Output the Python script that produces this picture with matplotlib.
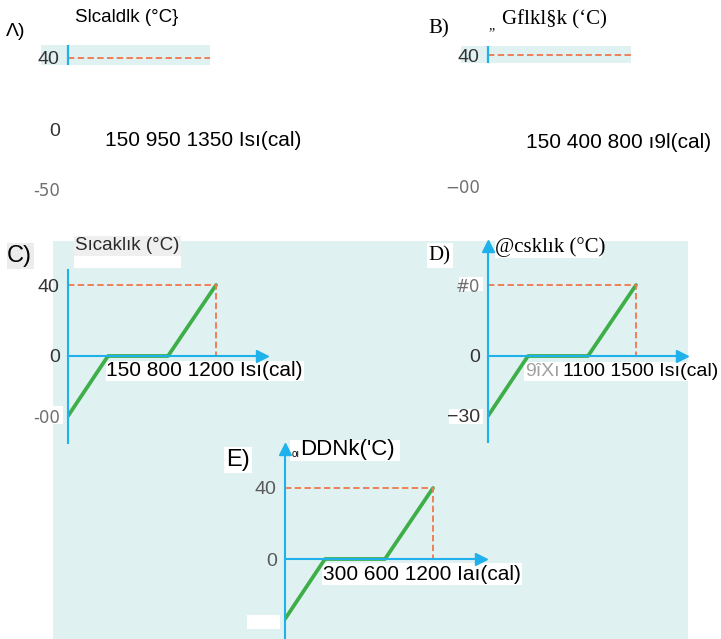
import numpy as np
import matplotlib.pyplot as plt
from matplotlib.patches import Rectangle

# heating curves: heat given (cal) against temperature (°C)
heat_a = [0, 150, 950, 1350]
heat_b = [0, 150, 400, 800]
heat_c = [0, 150, 800, 1200]
heat_d = [0, 300, 1100, 1500]
heat_e = [0, 300, 600, 1200]
temp = [-30, 0, 0, 40]

# printed texts of each option
titles = ["Slcaldlk (°C}", "Gflkl§k (‘C)", "Sıcaklık (°C)", "@csklık (°C)", "DDNk('C)"]
xlabels = ["150 950 1350 Isı(cal)", "150 400 800 ı9l(cal)", "150 800 1200 Isı(cal)",
           "1100 1500 Isı(cal)", "300 600 1200 Iaı(cal)"]
ylabels_a = ["40", "0", "-50"]
ylabels_b = ["40", "−00"]
ylabels_c = ["40", "0", "-00"]
ylabels_d = ["#0", "0", "−30"]
ylabels_e = ["40", "0"]

W, H = 721, 639
BLUE = "#1fb1ec"
ORANGE = "#f07a52"
GREEN = "#3dae48"
CYAN = "#e0f1f1"
SANS = "Liberation Sans"
SERIF = "Liberation Serif"

# the curves are drawn schematically: breakpoints are spread evenly, not to scale
XPOS = [0, 40, 100, 148]
TKEYS = [-30, 0, 40]
YPOS = [-60, 0, 71]


def piecewise(src, dst):
    src = np.asarray(src, float)
    dst = np.asarray(dst, float)

    def f(v):
        v = np.asarray(v, float)
        mid = np.interp(v, src, dst)
        lo = dst[0] + (v - src[0]) * (dst[1] - dst[0]) / (src[1] - src[0])
        hi = dst[-1] + (v - src[-1]) * (dst[-1] - dst[-2]) / (src[-1] - src[-2])
        return np.where(v < src[0], lo, np.where(v > src[-1], hi, mid))
    return f


fig = plt.figure(figsize=(W / 100, H / 100), dpi=100)
back = fig.add_axes([0, 0, 1, 1], zorder=0)
front = fig.add_axes([0, 0, 1, 1], zorder=5)
for a in (back, front):
    a.set_xlim(0, W)
    a.set_ylim(H, 0)
    a.axis("off")
front.patch.set_alpha(0)

back.add_patch(Rectangle((53, 241), 635, 400, color=CYAN, lw=0))

# white and grey boxes behind the printed texts
boxes = [((74, 241, 107, 27), "white"), ((74, 236, 107, 20), "#efefef"),
         ((7, 243, 27, 26), "#ececec"), ((106, 361, 198, 20), "white"),
         ((30, 406, 33, 18), "white"), ((427, 243, 26, 25), "white"),
         ((495, 237, 107, 21), "white"), ((524, 362, 197, 19), "white"),
         ((459, 277, 24, 14), "white"), ((449, 409, 34, 15), "white"),
         ((224, 447, 28, 26), "white"), ((290, 440, 110, 21), "white"),
         ((322, 563, 200, 22), "white")]
for (x, y, w, h), c in boxes:
    back.add_patch(Rectangle((x, y), w, h, color=c, lw=0))


def panel(heat, ox, oy, right, top, bottom, ylabs, yticks, draw_axes=True, yarrow=True):
    ax = fig.add_axes([ox / W, 1 - bottom / H, (right - ox) / W, (bottom - top) / H], zorder=2)
    ax.patch.set_alpha(0)
    ax.set_xscale("function", functions=(piecewise(heat, XPOS), piecewise(XPOS, heat)))
    ax.set_yscale("function", functions=(piecewise(TKEYS, YPOS), piecewise(YPOS, TKEYS)))
    ax.set_xlim(0, float(piecewise(XPOS, heat)(right - ox)))
    ax.set_ylim(float(piecewise(YPOS, TKEYS)(oy - bottom)), float(piecewise(YPOS, TKEYS)(oy - top)))
    ax.set_xticks([])
    ax.set_yticks(yticks, labels=ylabs)
    ax.tick_params(length=0, pad=6)
    for lbl in ax.get_yticklabels():
        lbl.set_fontfamily(SANS)
        lbl.set_fontsize(14)
        lbl.set_color("#333333")
    ax.spines[["top", "right"]].set_visible(False)
    if draw_axes:
        for s in ("left", "bottom"):
            ax.spines[s].set_color(BLUE)
            ax.spines[s].set_linewidth(1.5)
        ax.spines["bottom"].set_position(("data", 0))
        ax.plot([1], [0], ">", ms=9, color=BLUE, transform=ax.get_yaxis_transform(), clip_on=False)
        if yarrow:
            ax.plot([0], [1], "^", ms=9, color=BLUE, transform=ax.get_xaxis_transform(), clip_on=False)
        ax.plot(heat, temp, color=GREEN, lw=2.7, solid_capstyle="round")
    else:
        ax.spines[["left", "bottom"]].set_visible(False)
    guide, = ax.plot([0, heat[-1], heat[-1]], [temp[-1], temp[-1], 0], color=ORANGE,
                     lw=1.35, dashes=(3.4, 1.8))
    return ax, guide


def thin(lbl, color="#707070"):
    lbl.set_fontfamily("DejaVu Sans")
    lbl.set_fontsize(12)
    lbl.set_color(color)


# A and B: only a strip round the 40 line is left
for heat, ox, oy, strip, labs, ticks in [
        (heat_a, 68, 129, (41, 45, 169, 20), ylabels_a, [40, 0, -30]),
        (heat_b, 488, 126, (461, 46, 170, 17), ylabels_b, [40, -30])]:
    band = back.add_patch(Rectangle(strip[:2], strip[2], strip[3], color=CYAN, lw=0))
    ax, guide = panel(heat, ox, oy, ox + 200, 40, 200, labs, ticks, draw_axes=False)
    guide.set_clip_path(band)
    vline = ax.axvline(0, color=BLUE, lw=1.6)
    vline.set_clip_path(band)
    thin(ax.get_yticklabels()[-1])

# C, D, E
ax_c, _ = panel(heat_c, 68, 356, 262, 270, 443, ylabels_c, [40, 0, -30], yarrow=False)
thin(ax_c.get_yticklabels()[-1])
ax_d, _ = panel(heat_d, 488, 356, 682, 246, 442, ylabels_d, [40, 0, -30])
thin(ax_d.get_yticklabels()[0])
ax_e, _ = panel(heat_e, 285, 559, 481, 449, 640, ylabels_e, [40, 0])
for lbl in ax_e.get_yticklabels():
    lbl.set_color("#5a5a5a")

# patch hiding the lowest label of E
front.add_patch(Rectangle((247, 615), 33, 14, color="white", lw=0))


def t(x, y, s, size=15, family=SANS, color="black", **kw):
    front.text(x, y, s, fontsize=size, family=family, color=color,
               ha="left", va="center", zorder=3, **kw)


t(6, 31, "Λ)", size=14)
t(75, 18, titles[0], size=13.5)
t(105, 140, xlabels[0])

t(428, 29, "B)", size=15, family=SERIF)
t(488, 26, "„", size=10, family=SERIF)
t(502, 20, titles[1], size=15, family=SERIF)
t(526, 142, xlabels[1])

t(7, 256, "C)", size=17)
t(75, 246, titles[2], size=13.5, color="#2a2a2a")
t(106, 371, xlabels[2])

t(428, 256, "D)", size=15, family=SERIF)
t(495, 247, titles[3], size=15, family=SERIF)
t(525, 371, "9îXı", size=14, color="#a0a0a0")
t(563, 371, xlabels[3], size=14)

t(226, 460, "E)", size=17)
t(292, 454, "oı", size=7)
t(300, 450, titles[4], size=16)
t(323, 575, xlabels[4])

fig.savefig("out.png", dpi=100)
